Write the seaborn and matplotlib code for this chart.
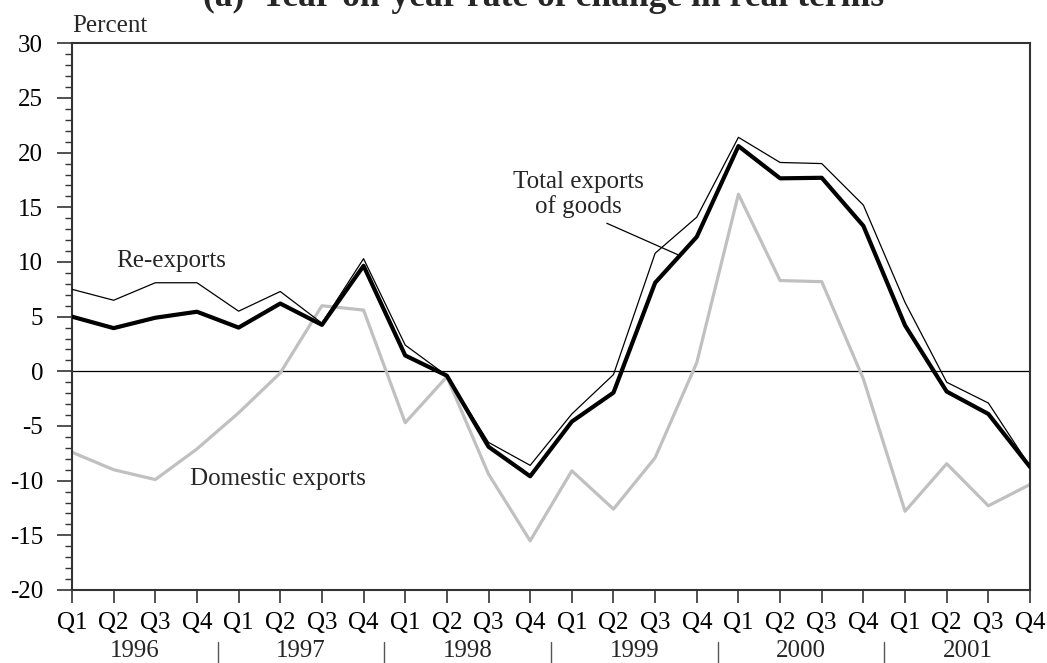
import matplotlib
matplotlib.use("Agg")
import matplotlib.pyplot as plt
import matplotlib.transforms as mtransforms
from matplotlib.ticker import MultipleLocator, FixedLocator
import numpy as np
import pandas as pd
import seaborn as sns

# Quarterly year-on-year growth, percent
years = ["1996", "1997", "1998", "1999", "2000", "2001"]
quarters = ["Q1", "Q2", "Q3", "Q4"]

re_exports = [7.5, 6.5, 8.1, 8.1, 5.5, 7.3, 4.4, 10.3,
              2.4, -0.4, -6.5, -8.6, -3.9, -0.3, 10.8, 14.1,
              21.4, 19.1, 19.0, 15.2, 6.3, -1.0, -2.9, -8.7]
total_exports = [5.0, 3.95, 4.9, 5.45, 4.0, 6.2, 4.25, 9.65,
                 1.45, -0.4, -6.9, -9.6, -4.6, -1.95, 8.1, 12.3,
                 20.6, 17.65, 17.7, 13.3, 4.2, -1.85, -3.9, -8.75]
domestic_exports = [-7.4, -9.0, -9.9, -7.1, -3.8, -0.15, 6.0, 5.6,
                    -4.7, -0.5, -9.4, -15.5, -9.1, -12.6, -7.9, 0.8,
                    16.2, 8.3, 8.2, -0.7, -12.8, -8.45, -12.3, -10.35]

tick_labels = [q for _ in years for q in quarters]
pos = np.arange(len(tick_labels))

df = pd.DataFrame({
    "pos": pos,
    "re": re_exports,
    "total": total_exports,
    "domestic": domestic_exports,
})

sns.set_style("ticks")
plt.rcParams["font.family"] = ["Liberation Serif", "DejaVu Serif"]
plt.rcParams["axes.unicode_minus"] = False
plt.rcParams["axes.edgecolor"] = "#333333"
plt.rcParams["xtick.color"] = "#333333"
plt.rcParams["ytick.color"] = "#333333"
plt.rcParams["xtick.labelcolor"] = "black"
plt.rcParams["ytick.labelcolor"] = "black"

fig = plt.figure(figsize=(10.47, 6.63), dpi=100)
ax = fig.add_axes([72 / 1047, 1 - 590 / 663, (1030 - 72) / 1047, (590 - 43.3) / 663])

ax.axhline(0, color="black", lw=0.9, zorder=1)
sns.lineplot(data=df, x="pos", y="domestic", ax=ax, color="#c0c0c0", lw=2.3, zorder=2)
sns.lineplot(data=df, x="pos", y="total", ax=ax, color="black", lw=3.0, zorder=3)
sns.lineplot(data=df, x="pos", y="re", ax=ax, color="black", lw=0.9, zorder=4)

ax.set_xlim(0, len(pos) - 1)
ax.set_ylim(-20, 30)
ax.set_xlabel("")
ax.set_ylabel("")

for s in ax.spines.values():
    s.set_linewidth(1.5)
    s.set_color("#333333")

ax.yaxis.set_major_locator(MultipleLocator(5))
ax.yaxis.set_minor_locator(MultipleLocator(1))
ax.tick_params(axis="y", which="major", length=10.8, width=1.2, pad=10, labelsize=18)
ax.tick_params(axis="y", which="minor", length=5, width=1.0)
ax.xaxis.set_major_locator(FixedLocator(pos))
ax.set_xticklabels(tick_labels)
ax.tick_params(axis="x", which="major", length=9.4, width=1.2, pad=6.5, labelsize=18)
ax.tick_params(axis="x", which="minor", bottom=False)

# Year labels and separators beneath the quarter labels
trans = mtransforms.blended_transform_factory(ax.transData, ax.transAxes)
def ax_y(py):
    return (590 - py) / (590 - 43.3)

for i, yr in enumerate(years):
    ax.text(i * 4 + 1.5, ax_y(657), yr, transform=trans, ha="center",
            va="baseline", fontsize=18, clip_on=False)
for i in range(1, len(years)):
    ax.plot([i * 4 - 0.5, i * 4 - 0.5], [ax_y(642), ax_y(666)], transform=trans,
            color="#555555", lw=1.0, clip_on=False)

# Series labels
ax.text(1.07, 9.54, "Re-exports", ha="left", va="baseline", fontsize=18)
ax.text(2.83, -10.4, "Domestic exports", ha="left", va="baseline", fontsize=18)
ax.text(12.15, 16.74, "Total exports", ha="center", va="baseline", fontsize=18)
ax.text(12.15, 14.45, "of goods", ha="center", va="baseline", fontsize=18)
ax.plot([12.84, 14.56], [13.54, 10.64], color="black", lw=0.9, zorder=5)

# Axis unit label and panel title
ax.text(0, ax_y(32), "Percent", transform=trans, ha="left", va="baseline", fontsize=18)
fig.text(544 / 1047, 1 - 6 / 663, "(a)  Year-on-year rate of change in real terms",
         ha="center", va="baseline", fontsize=25.6, fontweight="bold")

fig.savefig("out.png", dpi=100)
